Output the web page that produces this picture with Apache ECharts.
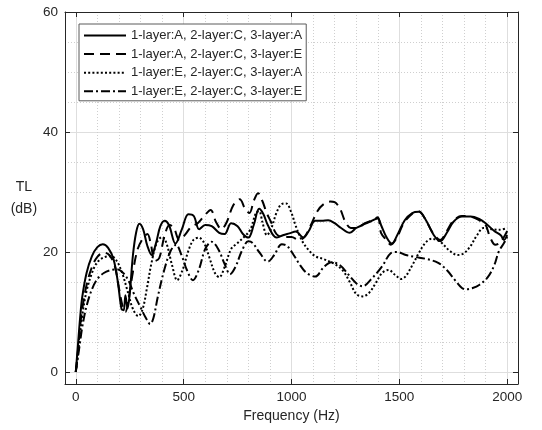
<!DOCTYPE html>
<html>
<head>
<meta charset="utf-8">
<script src="https://cdn.jsdelivr.net/npm/echarts@6/dist/echarts.min.js"></script>
<style>
  html, body { margin: 0; padding: 0; background: #fff; }
  #chart { width: 542px; height: 430px; }
</style>
</head>
<body>
<div id="chart"></div>
<script>
// Transmission loss vs frequency, four layer combinations
const seriesNames = [
    '1-layer:A, 2-layer:C, 3-layer:A',
    '1-layer:A, 2-layer:C, 3-layer:E',
    '1-layer:E, 2-layer:C, 3-layer:A',
    '1-layer:E, 2-layer:C, 3-layer:E'
];

const xMajorTicks = [0, 500, 1000, 1500, 2000];
const xMinorTicks = [100, 200, 300, 400, 600, 700, 800, 900, 1100, 1200, 1300, 1400, 1600, 1700, 1800, 1900];
const yMajorTicks = [0, 20, 40, 60];
const yMinorTicks = [5, 10, 15, 25, 30, 35, 45, 50, 55];

// [frequency (Hz), TL (dB)]
const tlAcA = [
    [0, 0], [10, 4.5], [20, 9], [30, 12.5], [50, 16.5], [75, 19.3], [100, 20.8], [125, 21.3],
    [150, 20.7], [175, 18.8], [195, 15], [212, 10.5], [222, 10.3], [230, 12.8], [240, 10.6],
    [250, 13], [265, 19.5], [280, 23.3], [295, 24.7], [312, 23.8], [332, 21], [352, 19.5],
    [372, 21.5], [392, 24.3], [412, 25.2], [432, 24.5], [462, 21.4], [492, 23.8], [522, 26.3],
    [547, 26], [572, 23.8], [600, 24.5], [630, 24.3], [665, 23.2], [690, 23], [720, 24.8],
    [750, 24.3], [775, 23], [800, 22.4], [825, 24.5], [850, 27.2], [870, 26.3], [890, 24.5],
    [930, 22.4], [960, 22.8], [990, 23.1], [1020, 23.4], [1055, 22.4], [1080, 23.5], [1110, 25.2],
    [1140, 25.2], [1170, 25.3], [1200, 24.8], [1230, 24], [1270, 23.2], [1300, 24], [1330, 24.5],
    [1360, 25], [1400, 25.6], [1415, 24.5], [1440, 22.5], [1465, 21.4], [1490, 22.8], [1525, 25.3],
    [1560, 26.5], [1590, 26.7], [1620, 25.5], [1660, 22.8], [1690, 21.8], [1720, 23.2], [1750, 25],
    [1790, 25.9], [1830, 25.9], [1870, 25.5], [1900, 24.8], [1940, 23.5], [1970, 22.8], [1985, 22],
    [2000, 22.8]
];

const tlAcE = [
    [0, 0], [10, 3.5], [20, 7.5], [30, 10.5], [50, 14.5], [75, 17.5], [100, 19.2], [130, 19.9],
    [155, 19.5], [180, 17.8], [200, 14], [217, 11], [230, 10], [244, 12], [264, 16.5], [287, 20.5],
    [312, 22.3], [332, 23], [347, 21.5], [367, 18.5], [387, 19], [410, 22.5], [435, 24.5],
    [455, 24], [480, 22], [505, 22.8], [535, 24.2], [565, 24.8], [595, 26], [625, 27], [650, 25],
    [675, 23.8], [700, 25], [730, 27.8], [760, 28.8], [785, 27.2], [805, 26.5], [825, 28.5],
    [845, 29.8], [865, 28.5], [885, 26.5], [905, 25], [930, 23], [960, 22.5], [1000, 22.5],
    [1035, 22], [1060, 22.5], [1090, 24.5], [1120, 26.8], [1150, 28], [1180, 28.4], [1200, 28.3],
    [1225, 27.2], [1250, 25], [1275, 24], [1300, 24], [1340, 24.8], [1370, 25.2], [1400, 25.8],
    [1415, 23.2], [1440, 22], [1460, 21.2], [1490, 22.5], [1520, 24.8], [1560, 26.4], [1590, 26.8],
    [1620, 25.5], [1655, 23.2], [1690, 22], [1720, 23.5], [1750, 25.2], [1790, 26], [1830, 25.9],
    [1870, 25.3], [1900, 24.5], [1920, 22.5], [1945, 21.2], [1965, 21.5], [1985, 22.5], [2000, 23.5]
];

const tlEcA = [
    [0, 0], [10, 3], [20, 6.5], [30, 9.5], [50, 13.5], [75, 16.5], [100, 18.3], [130, 19.1],
    [165, 19.3], [190, 18.5], [215, 16.5], [240, 13.5], [265, 10.5], [290, 9.3], [310, 10.5],
    [330, 14], [350, 18], [375, 21.5], [400, 22.5], [420, 21.5], [445, 18], [470, 15.3], [495, 17],
    [520, 20], [545, 22], [570, 22.4], [595, 21.5], [620, 19], [645, 16.5], [665, 15.8], [690, 17.5],
    [720, 20.5], [750, 21.5], [780, 22.5], [810, 23.8], [835, 26.5], [850, 26.8], [865, 25],
    [886, 22.8], [905, 23.8], [930, 26.5], [955, 28], [975, 28.1], [1000, 26.5], [1020, 24.3],
    [1050, 21.8], [1080, 20.3], [1110, 19.3], [1150, 18.8], [1200, 18], [1240, 16.8], [1270, 15],
    [1300, 13], [1330, 12.6], [1360, 13.2], [1390, 14.8], [1420, 16.5], [1450, 17], [1480, 16.2],
    [1510, 15.5], [1530, 16], [1560, 17.8], [1590, 19.8], [1620, 21.5], [1650, 22.2], [1690, 21.7],
    [1730, 20.3], [1770, 19.5], [1800, 19.8], [1830, 21], [1860, 22.8], [1890, 24], [1930, 23.8],
    [1960, 23.7], [2000, 24]
];

const tlEcE = [
    [0, 0], [10, 2.5], [20, 5], [30, 7.5], [50, 11], [75, 13.8], [100, 15.5], [130, 16.5],
    [165, 17], [195, 17.1], [220, 16.5], [245, 15.2], [270, 13], [300, 10.8], [325, 9], [345, 8],
    [360, 9], [380, 12.5], [410, 17], [440, 20.2], [465, 21.2], [490, 19.5], [515, 17], [543, 15.3],
    [570, 17], [600, 20.5], [630, 21.7], [660, 20.5], [690, 18], [715, 16.3], [740, 17.5],
    [770, 20.2], [800, 21.8], [820, 21.5], [850, 20], [890, 18.4], [920, 19.5], [955, 21.3],
    [980, 21], [1010, 19.5], [1040, 17.8], [1070, 16.5], [1110, 15.9], [1150, 17.5], [1185, 18.3],
    [1225, 17.8], [1260, 16.4], [1300, 14.8], [1330, 14.3], [1370, 15.5], [1420, 17.6], [1460, 19.8],
    [1490, 20], [1530, 19.5], [1570, 19.2], [1630, 18.8], [1680, 18.2], [1720, 17], [1760, 15.2],
    [1790, 14], [1810, 13.8], [1840, 14], [1870, 14.5], [1910, 15.8], [1940, 17.8], [1960, 20],
    [1985, 21.5], [2000, 22.5]
];

const seriesData = [tlAcA, tlAcE, tlEcA, tlEcE];
const dashTypes = ['solid', [10, 6], [2, 2.2], [9, 3, 2, 3]];

const FONT = 'Liberation Sans, Arial, sans-serif';
const INK = '#262626';

const chart = echarts.init(document.getElementById('chart'));

const plainNum = v => String(v);

const frameX = (pos, show) => ({
    type: 'value',
    min: -50,
    max: 2050,
    position: pos,
    axisLine: { show: true, onZero: false, lineStyle: { color: INK, width: 1 } },
    axisTick: { show: true, inside: true, length: 5, customValues: xMajorTicks, lineStyle: { color: INK } },
    axisLabel: show
        ? { show: true, customValues: xMajorTicks, formatter: plainNum, margin: 6, color: INK, fontSize: 13.5, fontFamily: FONT }
        : { show: false },
    splitLine: { show: false }
});

const frameY = (pos, show) => ({
    type: 'value',
    min: -2,
    max: 60,
    position: pos,
    axisLine: { show: true, onZero: false, lineStyle: { color: INK, width: 1 } },
    axisTick: { show: true, inside: true, length: 5, customValues: yMajorTicks, lineStyle: { color: INK } },
    axisLabel: show
        ? { show: true, customValues: yMajorTicks, formatter: plainNum, margin: 7, color: INK, fontSize: 13.5, fontFamily: FONT }
        : { show: false },
    splitLine: { show: false }
});

const gridAxis = (ticks, lineType, color, isX) => ({
    type: 'value',
    min: isX ? -50 : -2,
    max: isX ? 2050 : 60,
    axisLine: { show: false },
    axisTick: { show: false, customValues: ticks },
    axisLabel: { show: false, customValues: ticks },
    splitLine: { show: true, lineStyle: { color: color, type: lineType, width: 1 } }
});

const xMain = frameX('bottom', true);
xMain.name = 'Frequency (Hz)';
xMain.nameLocation = 'middle';
xMain.nameGap = 22;
xMain.nameTextStyle = { color: INK, fontSize: 14, fontFamily: FONT };

const yMain = frameY('left', true);
yMain.name = 'TL\n(dB)';
yMain.nameLocation = 'middle';
yMain.nameRotate = 0;
yMain.nameGap = 38;
yMain.nameTextStyle = {
    color: INK, fontSize: 14, fontFamily: FONT, align: 'center', lineHeight: 22, padding: [4, 0, 0, 0]
};

const option = {
    backgroundColor: '#ffffff',
    animation: false,
    grid: { left: 65, right: 24, top: 12, bottom: 46, containLabel: false },
    legend: {
        orient: 'vertical',
        left: 79,
        top: 24,
        backgroundColor: '#ffffff',
        borderColor: '#5a5a5a',
        borderWidth: 1,
        padding: [5, 4, 3, 4],
        itemWidth: 42,
        itemHeight: 14,
        itemGap: 5.6,
        itemStyle: { opacity: 0 },
        textStyle: { color: INK, fontSize: 13, fontFamily: FONT },
        data: seriesNames
    },
    xAxis: [
        xMain,
        gridAxis(xMajorTicks, 'solid', '#dedede', true),
        gridAxis(xMinorTicks, [1, 2], '#cfcfcf', true),
        frameX('top', false)
    ],
    yAxis: [
        yMain,
        gridAxis(yMajorTicks, 'solid', '#dedede', false),
        gridAxis(yMinorTicks, [1, 2], '#cfcfcf', false),
        frameY('right', false)
    ],
    series: seriesData.map((d, i) => ({
        name: seriesNames[i],
        type: 'line',
        data: d,
        smooth: 0.35,
        symbol: 'none',
        clip: true,
        z: 10 - i,
        lineStyle: { color: '#000000', width: 2, type: dashTypes[i] },
        itemStyle: { color: '#000000' }
    }))
};

chart.setOption(option);
</script>
</body>
</html>
